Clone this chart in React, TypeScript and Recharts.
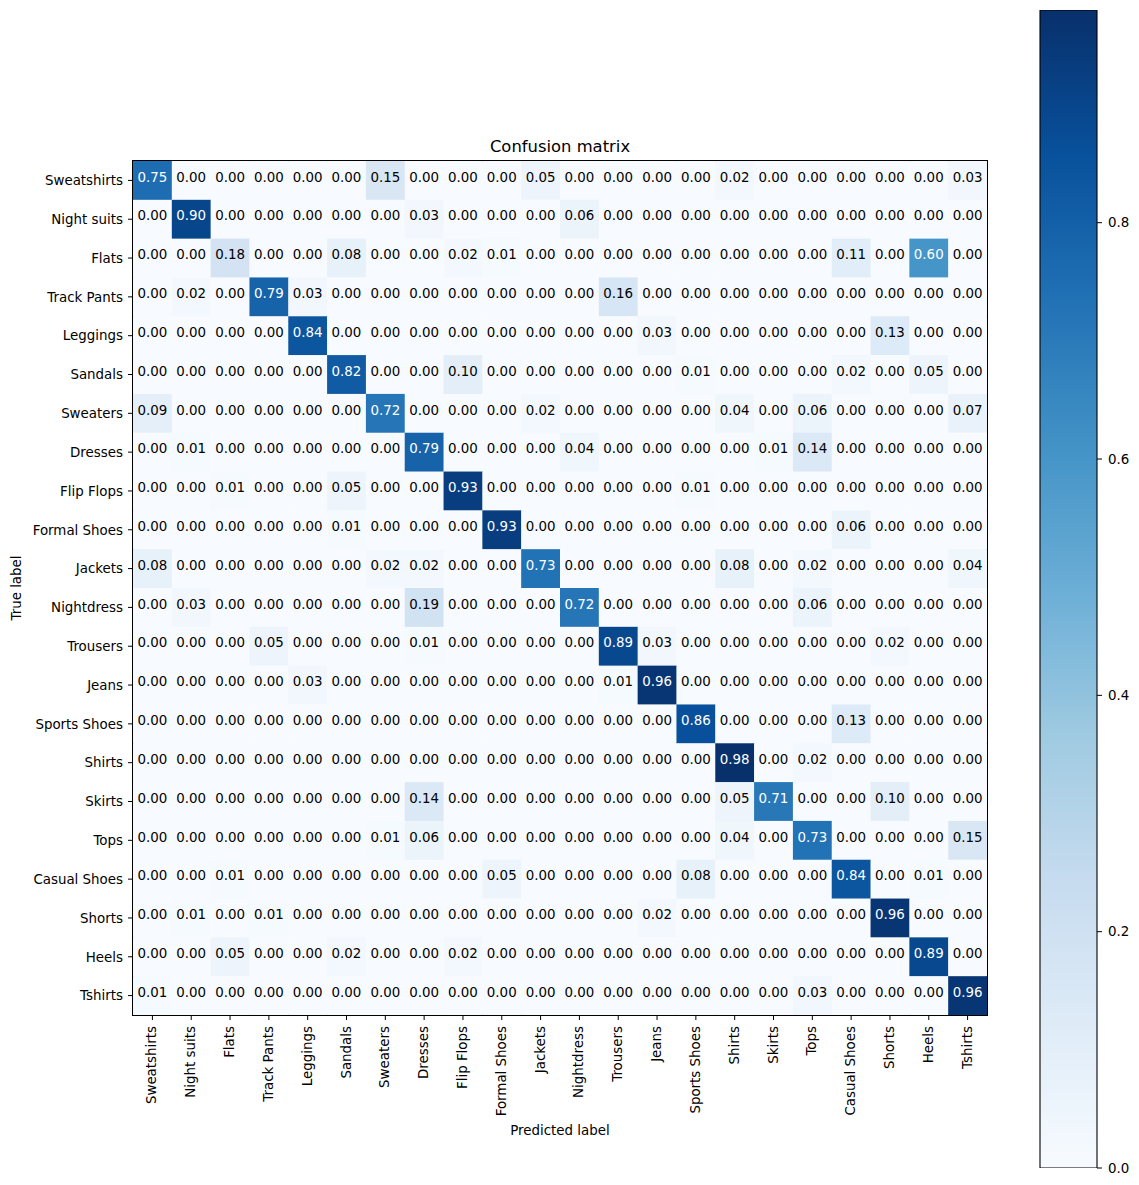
import React from "react";
import {
  ScatterChart,
  Scatter,
  XAxis,
  YAxis,
  ReferenceArea,
  Label,
  BarChart,
  Bar,
} from "recharts";

const labels = [
  "Sweatshirts",
  "Night suits",
  "Flats",
  "Track Pants",
  "Leggings",
  "Sandals",
  "Sweaters",
  "Dresses",
  "Flip Flops",
  "Formal Shoes",
  "Jackets",
  "Nightdress",
  "Trousers",
  "Jeans",
  "Sports Shoes",
  "Shirts",
  "Skirts",
  "Tops",
  "Casual Shoes",
  "Shorts",
  "Heels",
  "Tshirts",
];

// one row per true label, columns in the same order as labels
const sweatshirts = [0.75, 0, 0, 0, 0, 0, 0.15, 0, 0, 0, 0.05, 0, 0, 0, 0, 0.02, 0, 0, 0, 0, 0, 0.03];
const nightSuits = [0, 0.9, 0, 0, 0, 0, 0, 0.03, 0, 0, 0, 0.06, 0, 0, 0, 0, 0, 0, 0, 0, 0, 0];
const flats = [0, 0, 0.18, 0, 0, 0.08, 0, 0, 0.02, 0.01, 0, 0, 0, 0, 0, 0, 0, 0, 0.11, 0, 0.6, 0];
const trackPants = [0, 0.02, 0, 0.79, 0.03, 0, 0, 0, 0, 0, 0, 0, 0.16, 0, 0, 0, 0, 0, 0, 0, 0, 0];
const leggings = [0, 0, 0, 0, 0.84, 0, 0, 0, 0, 0, 0, 0, 0, 0.03, 0, 0, 0, 0, 0, 0.13, 0, 0];
const sandals = [0, 0, 0, 0, 0, 0.82, 0, 0, 0.1, 0, 0, 0, 0, 0, 0.01, 0, 0, 0, 0.02, 0, 0.05, 0];
const sweaters = [0.09, 0, 0, 0, 0, 0, 0.72, 0, 0, 0, 0.02, 0, 0, 0, 0, 0.04, 0, 0.06, 0, 0, 0, 0.07];
const dresses = [0, 0.01, 0, 0, 0, 0, 0, 0.79, 0, 0, 0, 0.04, 0, 0, 0, 0, 0.01, 0.14, 0, 0, 0, 0];
const flipFlops = [0, 0, 0.01, 0, 0, 0.05, 0, 0, 0.93, 0, 0, 0, 0, 0, 0.01, 0, 0, 0, 0, 0, 0, 0];
const formalShoes = [0, 0, 0, 0, 0, 0.01, 0, 0, 0, 0.93, 0, 0, 0, 0, 0, 0, 0, 0, 0.06, 0, 0, 0];
const jackets = [0.08, 0, 0, 0, 0, 0, 0.02, 0.02, 0, 0, 0.73, 0, 0, 0, 0, 0.08, 0, 0.02, 0, 0, 0, 0.04];
const nightdress = [0, 0.03, 0, 0, 0, 0, 0, 0.19, 0, 0, 0, 0.72, 0, 0, 0, 0, 0, 0.06, 0, 0, 0, 0];
const trousers = [0, 0, 0, 0.05, 0, 0, 0, 0.01, 0, 0, 0, 0, 0.89, 0.03, 0, 0, 0, 0, 0, 0.02, 0, 0];
const jeans = [0, 0, 0, 0, 0.03, 0, 0, 0, 0, 0, 0, 0, 0.01, 0.96, 0, 0, 0, 0, 0, 0, 0, 0];
const sportsShoes = [0, 0, 0, 0, 0, 0, 0, 0, 0, 0, 0, 0, 0, 0, 0.86, 0, 0, 0, 0.13, 0, 0, 0];
const shirts = [0, 0, 0, 0, 0, 0, 0, 0, 0, 0, 0, 0, 0, 0, 0, 0.98, 0, 0.02, 0, 0, 0, 0];
const skirts = [0, 0, 0, 0, 0, 0, 0, 0.14, 0, 0, 0, 0, 0, 0, 0, 0.05, 0.71, 0, 0, 0.1, 0, 0];
const tops = [0, 0, 0, 0, 0, 0, 0.01, 0.06, 0, 0, 0, 0, 0, 0, 0, 0.04, 0, 0.73, 0, 0, 0, 0.15];
const casualShoes = [0, 0, 0.01, 0, 0, 0, 0, 0, 0, 0.05, 0, 0, 0, 0, 0.08, 0, 0, 0, 0.84, 0, 0.01, 0];
const shorts = [0, 0.01, 0, 0.01, 0, 0, 0, 0, 0, 0, 0, 0, 0, 0.02, 0, 0, 0, 0, 0, 0.96, 0, 0];
const heels = [0, 0, 0.05, 0, 0, 0.02, 0, 0, 0.02, 0, 0, 0, 0, 0, 0, 0, 0, 0, 0, 0, 0.89, 0];
const tshirts = [0.01, 0, 0, 0, 0, 0, 0, 0, 0, 0, 0, 0, 0, 0, 0, 0, 0, 0.03, 0, 0, 0, 0.96];

const matrix = [
  sweatshirts, nightSuits, flats, trackPants, leggings, sandals, sweaters,
  dresses, flipFlops, formalShoes, jackets, nightdress, trousers, jeans,
  sportsShoes, shirts, skirts, tops, casualShoes, shorts, heels, tshirts,
];

const colorbarTicks = [0, 0.2, 0.4, 0.6, 0.8];
const vmax = 0.98;

// matplotlib "Blues"
const bluesStops = [
  "#f7fbff", "#deebf7", "#c6dbef", "#9ecae1", "#6baed6",
  "#4292c6", "#2171b5", "#08519c", "#08306b",
];

const hexToRgb = (h: string) => [
  parseInt(h.slice(1, 3), 16),
  parseInt(h.slice(3, 5), 16),
  parseInt(h.slice(5, 7), 16),
];

const blues = (t: number) => {
  const c = Math.max(0, Math.min(1, t)) * (bluesStops.length - 1);
  const i = Math.min(Math.floor(c), bluesStops.length - 2);
  const f = c - i;
  const a = hexToRgb(bluesStops[i]);
  const b = hexToRgb(bluesStops[i + 1]);
  const rgb = a.map((v, k) => Math.round(v + (b[k] - v) * f));
  return `rgb(${rgb[0]},${rgb[1]},${rgb[2]})`;
};

const cells = matrix.flatMap((row, r) => row.map((v, c) => ({ x: c, y: r, v })));
const indexTicks = labels.map((_, i) => i);
const colorbarData = [{ name: "scale", top: vmax }];

const FONT = "'DejaVu Sans', sans-serif";
const FS = 13.4;
const PLOT = 854;
const CELL = PLOT / labels.length;

const HeatCell = (props: any) => {
  const { cx, cy, payload } = props;
  return (
    <g>
      <rect
        x={cx - CELL / 2}
        y={cy - CELL / 2}
        width={CELL + 0.4}
        height={CELL + 0.4}
        fill={blues(payload.v / vmax)}
      />
      <text
        x={cx}
        y={cy + 1.2}
        textAnchor="middle"
        fontSize={FS}
        fontFamily={FONT}
        fill={payload.v > vmax / 2 ? "#ffffff" : "#000000"}
      >
        {payload.v.toFixed(2)}
      </text>
    </g>
  );
};

const XTick = (props: any) => {
  const { x, y, payload } = props;
  return (
    <text
      x={x}
      y={y}
      dy={4}
      textAnchor="end"
      transform={`rotate(-90 ${x} ${y})`}
      fontSize={FS}
      fontFamily={FONT}
      fill="#000"
    >
      {labels[payload.value]}
    </text>
  );
};

export default function App() {
  return (
    <div
      style={{
        position: "absolute",
        left: 0,
        top: 0,
        width: 1139,
        height: 1185,
        background: "#fff",
        fontFamily: FONT,
      }}
    >
      <div
        style={{
          position: "absolute",
          left: 133,
          top: 137,
          width: PLOT,
          textAlign: "center",
          fontSize: 16.4,
          color: "#000",
        }}
      >
        Confusion matrix
      </div>

      <div style={{ position: "absolute", left: 0, top: 0 }}>
        <ScatterChart
          width={1000}
          height={1185}
          margin={{ top: 161, right: 13, bottom: 0, left: 0 }}
        >
          <XAxis
            type="number"
            dataKey="x"
            domain={[-0.5, 21.5]}
            ticks={indexTicks}
            interval={0}
            allowDataOverflow
            height={170}
            tickSize={5}
            tickMargin={6}
            tickLine={{ stroke: "#000" }}
            axisLine={false}
            tick={<XTick />}
          >
            <Label
              value="Predicted label"
              position="insideBottom"
              offset={50}
              style={{ fontSize: FS, fontFamily: FONT, fill: "#000" }}
            />
          </XAxis>
          <YAxis
            type="number"
            dataKey="y"
            reversed
            domain={[-0.5, 21.5]}
            ticks={indexTicks}
            interval={0}
            allowDataOverflow
            width={133}
            tickSize={5}
            tickMargin={5}
            tickLine={{ stroke: "#000" }}
            axisLine={false}
            tick={{ fontSize: FS, fontFamily: FONT, fill: "#000" }}
            tickFormatter={(v: number) => labels[v]}
          >
            <Label
              content={() => (
                <text
                  x={16}
                  y={588}
                  dy={4.5}
                  textAnchor="middle"
                  transform="rotate(-90 16 588)"
                  fontSize={FS}
                  fontFamily={FONT}
                  fill="#000"
                >
                  True label
                </text>
              )}
            />
          </YAxis>
          <Scatter data={cells} shape={<HeatCell />} isAnimationActive={false} />
          <ReferenceArea
            x1={-0.5}
            x2={21.5}
            y1={-0.5}
            y2={21.5}
            fill="none"
            fillOpacity={0}
            stroke="#000"
            strokeWidth={2}
            ifOverflow="visible"
          />
        </ScatterChart>
      </div>

      <div style={{ position: "absolute", left: 1000, top: 0 }}>
        <BarChart
          width={139}
          height={1185}
          data={colorbarData}
          margin={{ top: 10, right: 0, bottom: 17, left: 40 }}
          barCategoryGap={0}
        >
          <defs>
            <linearGradient id="bluesGradient" x1="0" y1="1" x2="0" y2="0">
              {bluesStops.map((c, i) => (
                <stop key={c} offset={i / (bluesStops.length - 1)} stopColor={c} />
              ))}
            </linearGradient>
          </defs>
          <XAxis dataKey="name" hide />
          <YAxis
            orientation="right"
            type="number"
            domain={[0, vmax]}
            ticks={colorbarTicks}
            interval={0}
            allowDataOverflow
            width={42}
            tickSize={5}
            tickMargin={6}
            tickLine={{ stroke: "#000" }}
            axisLine={false}
            tick={{ fontSize: FS, fontFamily: FONT, fill: "#000" }}
            tickFormatter={(v: number) => v.toFixed(1)}
          />
          <Bar
            dataKey="top"
            fill="url(#bluesGradient)"
            stroke="#000"
            strokeWidth={1.1}
            isAnimationActive={false}
          />
        </BarChart>
      </div>
    </div>
  );
}
